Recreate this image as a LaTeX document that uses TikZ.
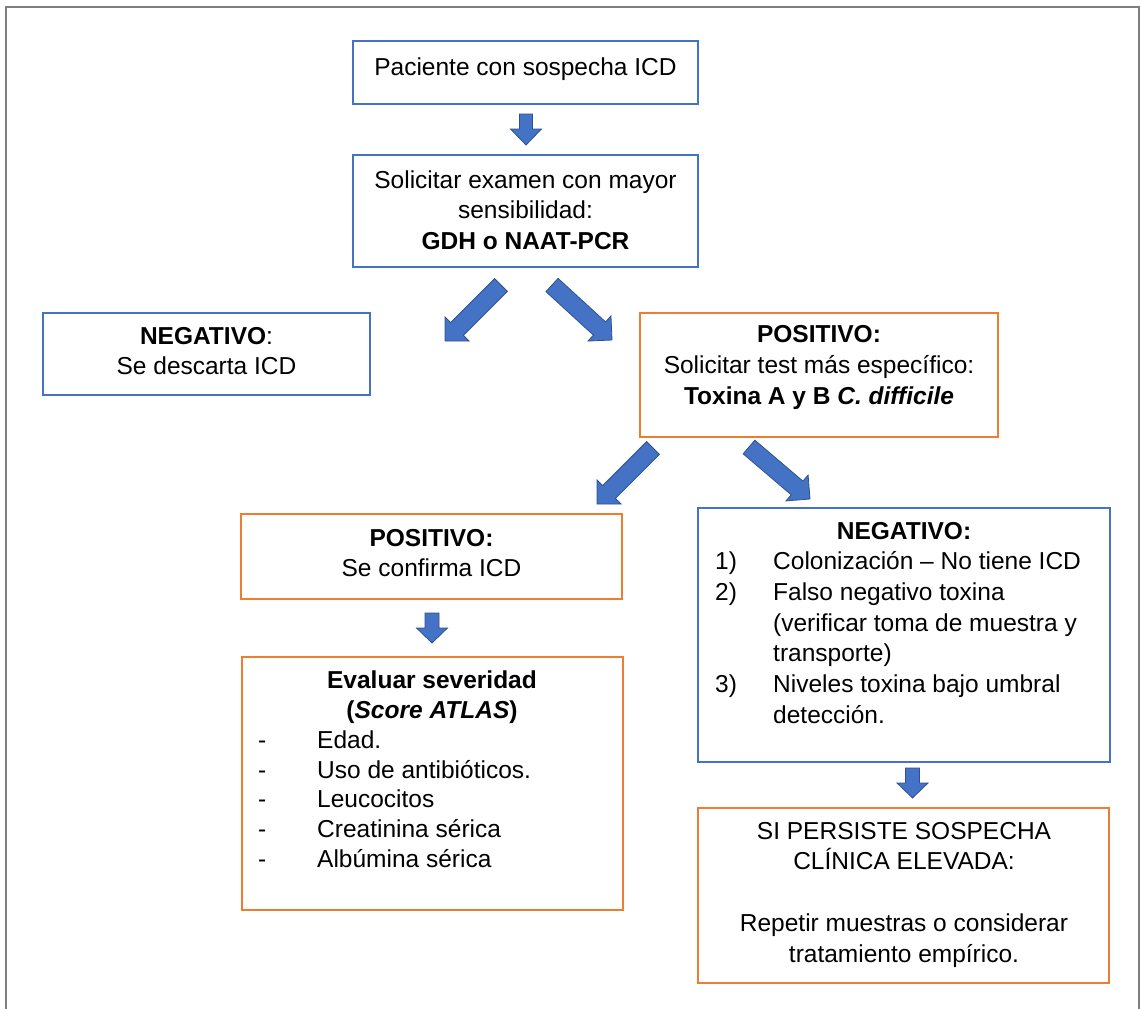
\documentclass[tikz,border=0pt]{standalone}
\usepackage{fontspec}
\setmainfont{Liberation Sans}
\usetikzlibrary{calc}
\definecolor{bblue}{HTML}{4472C4}
\definecolor{borange}{HTML}{ED7D31}
\definecolor{adraw}{HTML}{2F528F}
\definecolor{framegray}{HTML}{7F7F7F}
\newcommand\tstr{\rule{0pt}{24pt}}
% #1 tail coordinate, #2 tip coordinate, #3 shaft half width, #4 head half width, #5 head length
\newcommand\blockarr[5]{%
  \filldraw[barrow]
    ($(#1)!#3!90:(#2)$) -- ($(#1)!#3!-90:(#2)$)
    -- ($(#2)!#5!(#1)!#3!-90:(#2)$) -- ($(#2)!#5!(#1)!#4!-90:(#2)$)
    -- (#2)
    -- ($(#2)!#5!(#1)!#4!90:(#2)$) -- ($(#2)!#5!(#1)!#3!90:(#2)$) -- cycle;}
\begin{document}
\begin{tikzpicture}[x=1pt,y=-1pt,
  box/.style={draw=#1, line width=1.8pt, inner sep=0pt, outer sep=0pt, anchor=north west},
  txt/.style={inner sep=0pt, anchor=north, align=center, font=\fontsize{24.5}{30.7}\selectfont},
  ltxt/.style={inner sep=0pt, anchor=north west, align=left, font=\fontsize{24.5}{30.7}\selectfont},
  barrow/.style={fill=bblue, draw=adraw, line width=0.8pt, line join=miter}]
\useasboundingbox (0,0) rectangle (1141,1009);
\fill[white] (0,0) rectangle (1141,1009);
\draw[framegray, line width=2pt] (6,1012) -- (6,7) -- (1139,7) -- (1139,1012);

% boxes
\node[box=bblue, minimum width=345pt, minimum height=63pt] (b1) at (353,41) {};
\node[box=bblue, minimum width=345pt, minimum height=112pt] (b2) at (353,155) {};
\node[box=bblue, minimum width=327pt, minimum height=82pt] (b3) at (43,313) {};
\node[box=borange, minimum width=358pt, minimum height=124pt] (b4) at (640,313) {};
\node[box=borange, minimum width=381pt, minimum height=85pt] (b5) at (241,514) {};
\node[box=bblue, minimum width=412pt, minimum height=254pt] (b6) at (698,508) {};
\node[box=borange, minimum width=381pt, minimum height=253pt] (b7) at (242,657) {};
\node[box=borange, minimum width=411pt, minimum height=175pt] (b8) at (698,808) {};

% texts
\node[txt] (t1) at (525.5,51) {\tstr Paciente con sospecha ICD};
\node[txt] (t2) at (525.5,164) {\tstr Solicitar examen con mayor\\ sensibilidad:\\ \textbf{GDH o NAAT-PCR}};
\node[txt] (t3) at (206.5,320) {\tstr\textbf{NEGATIVO}:\\ Se descarta ICD};
\node[txt] (t4) at (819,318.5) {\tstr\textbf{POSITIVO:}\\ Solicitar test más específico:\\ \textbf{Toxina A y B \textit{C. difficile}}};
\node[txt] (t5) at (431.5,522) {\tstr\textbf{POSITIVO:}\\ Se confirma ICD};
\node[txt] (t6h) at (904,515) {\tstr\textbf{NEGATIVO:}};
\node[ltxt] (t6) at (715,545.5) {\tstr\makebox[58pt][l]{1)}Colonización – No tiene ICD\\
  \makebox[58pt][l]{2)}Falso negativo toxina\\
  \hspace*{58pt}(verificar toma de muestra y\\
  \hspace*{58pt}transporte)\\
  \makebox[58pt][l]{3)}Niveles toxina bajo umbral\\
  \hspace*{58pt}detección.};
\node[txt, font=\fontsize{24.5}{30}\selectfont] (t7h) at (432,664.5) {\tstr\textbf{Evaluar severidad}\\ \textbf{(\textit{Score ATLAS})}};
\node[ltxt, font=\fontsize{24.5}{29.8}\selectfont] (t7) at (258,724) {\tstr\makebox[59pt][l]{-}Edad.\\
  \makebox[59pt][l]{-}Uso de antibióticos.\\
  \makebox[59pt][l]{-}Leucocitos\\
  \makebox[59pt][l]{-}Creatinina sérica\\
  \makebox[59pt][l]{-}Albúmina sérica};
\node[txt] (t8) at (904,815) {\tstr SI PERSISTE SOSPECHA\\ CLÍNICA ELEVADA:\\[31pt] Repetir muestras o considerar\\ tratamiento empírico.};

% block arrows
\coordinate (a1s) at (526,114); \coordinate (a1e) at (526,145);
\coordinate (a2s) at (501,285); \coordinate (a2e) at (445,341);
\coordinate (a3s) at (552,285); \coordinate (a3e) at (612,340);
\coordinate (a4s) at (653,448); \coordinate (a4e) at (597,504);
\coordinate (a5s) at (749,447); \coordinate (a5e) at (810,499);
\coordinate (a6s) at (432,613); \coordinate (a6e) at (432,643);
\coordinate (a7s) at (912.5,768); \coordinate (a7e) at (912.5,798);
\blockarr{a1s}{a1e}{6.5pt}{15.5pt}{16pt}
\blockarr{a2s}{a2e}{9pt}{17pt}{17pt}
\blockarr{a3s}{a3e}{9pt}{17pt}{17pt}
\blockarr{a4s}{a4e}{9pt}{17pt}{17pt}
\blockarr{a5s}{a5e}{9pt}{17pt}{17pt}
\blockarr{a6s}{a6e}{7pt}{15.5pt}{15pt}
\blockarr{a7s}{a7e}{7pt}{15.5pt}{15pt}
\end{tikzpicture}
\end{document}
